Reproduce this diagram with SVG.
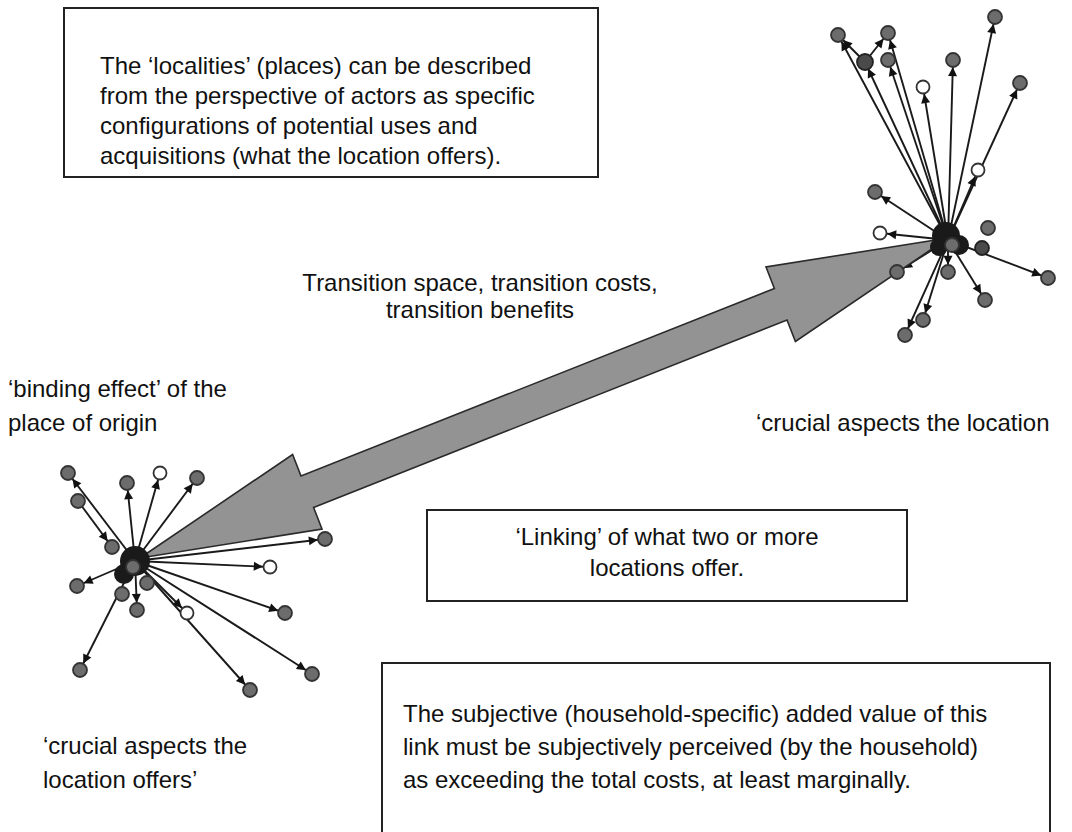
<svg xmlns="http://www.w3.org/2000/svg" width="1072" height="832" viewBox="0 0 1072 832">
<defs>
<marker id="ah" viewBox="0 0 10 10" refX="18" refY="5" markerWidth="11" markerHeight="9" markerUnits="userSpaceOnUse" orient="auto" overflow="visible">
<path d="M0,0 L10,5 L0,10 z" fill="#111"/>
</marker>
</defs>
<style>
text{font-family:"Liberation Sans",Arial,sans-serif;font-size:24px;fill:#111}
.box{fill:#fff;stroke:#222;stroke-width:2}
.e{stroke:#1a1a1a;stroke-width:1.9;fill:none;marker-end:url(#ah)}
.n{fill:#6c6c6c;stroke:#333;stroke-width:1.8}
.d{fill:#4a4a4a;stroke:#222;stroke-width:1.8}
.o{fill:#fff;stroke:#333;stroke-width:1.8}
.hub{fill:#1a1a1a}
.big{fill:#939393;stroke:#2a2a2a;stroke-width:1.6;stroke-linejoin:miter}
</style>
<rect width="1072" height="832" fill="#fff"/>

<g id="box-localities">
<rect class="box" x="64" y="8" width="534" height="169"/>
<text x="100" y="74">The ‘localities’ (places) can be described</text>
<text x="100" y="104">from the perspective of actors as specific</text>
<text x="100" y="134">configurations of potential uses and</text>
<text x="100" y="164">acquisitions (what the location offers).</text>
</g>

<g id="label-transition">
<text x="480" y="291" text-anchor="middle">Transition space, transition costs,</text>
<text x="480" y="318" text-anchor="middle">transition benefits</text>
</g>

<g id="label-binding">
<text x="8" y="397">‘binding effect’ of the</text>
<text x="8" y="431">place of origin</text>
</g>

<g id="label-crucial-right">
<text x="756" y="431">‘crucial aspects the location</text>
</g>

<g id="label-crucial-left">
<text x="43" y="754">‘crucial aspects the</text>
<text x="43" y="788">location offers’</text>
</g>

<g id="box-linking">
<rect class="box" x="427" y="510" width="480" height="91"/>
<text x="667" y="545" text-anchor="middle">‘Linking’ of what two or more</text>
<text x="667" y="576" text-anchor="middle">locations offer.</text>
</g>

<g id="box-subjective">
<rect class="box" x="382" y="663" width="668" height="180"/>
<text x="403" y="722">The subjective (household-specific) added value of this</text>
<text x="403" y="755">link must be subjectively perceived (by the household)</text>
<text x="403" y="788">as exceeding the total costs, at least marginally.</text>
</g>

<g id="connectors">
<g id="right-edges">
<line class="e" x1="948" y1="240" x2="838" y2="35"/>
<line class="e" x1="948" y1="240" x2="888" y2="33"/>
<line class="e" x1="948" y1="240" x2="865" y2="62"/>
<line class="e" x1="948" y1="240" x2="888" y2="60"/>
<line class="e" x1="948" y1="240" x2="953" y2="60"/>
<line class="e" x1="948" y1="240" x2="995" y2="17"/>
<line class="e" x1="948" y1="240" x2="1020" y2="83"/>
<line class="e" x1="948" y1="240" x2="923" y2="87"/>
<line class="e" x1="948" y1="240" x2="978" y2="170"/>
<line class="e" x1="948" y1="240" x2="875" y2="192"/>
<line class="e" x1="948" y1="240" x2="880" y2="233"/>
<line class="e" x1="948" y1="240" x2="1048" y2="278"/>
<line class="e" x1="948" y1="240" x2="985" y2="300"/>
<line class="e" x1="948" y1="240" x2="923" y2="320"/>
<line class="e" x1="948" y1="240" x2="905" y2="335"/>
<line class="e" x1="948" y1="240" x2="948" y2="272"/>
<line class="e" x1="948" y1="240" x2="897" y2="272"/>
<line class="e" x1="865" y1="62" x2="838" y2="35"/>
<line class="e" x1="865" y1="62" x2="888" y2="33"/>
</g>
<g id="left-edges">
<line class="e" x1="135" y1="561" x2="68" y2="473"/>
<line class="e" x1="78" y1="501" x2="112" y2="547"/>
<line class="e" x1="135" y1="561" x2="127" y2="483"/>
<line class="e" x1="135" y1="561" x2="160" y2="473"/>
<line class="e" x1="135" y1="561" x2="197" y2="478"/>
<line class="e" x1="135" y1="561" x2="325" y2="539"/>
<line class="e" x1="135" y1="561" x2="270" y2="567"/>
<line class="e" x1="135" y1="561" x2="285" y2="613"/>
<line class="e" x1="135" y1="561" x2="187" y2="613"/>
<line class="e" x1="135" y1="561" x2="312" y2="674"/>
<line class="e" x1="135" y1="561" x2="250" y2="690"/>
<line class="e" x1="135" y1="561" x2="80" y2="670"/>
<line class="e" x1="135" y1="561" x2="77" y2="586"/>
<line class="e" x1="135" y1="561" x2="137" y2="610"/>
</g>
</g>

<g id="transition-arrow">
<polygon class="big" points="948,238 766,267 774.4,288.5 301,476 292.6,454.5 140,558 322,529 313.6,507.5 787,320 795.4,341.5"/>
</g>

<g id="cluster-right">
<circle class="n" cx="838" cy="35" r="7"/>
<circle class="n" cx="888" cy="33" r="7"/>
<circle class="d" cx="865" cy="62" r="8"/>
<circle class="n" cx="888" cy="60" r="7"/>
<circle class="n" cx="953" cy="60" r="7"/>
<circle class="n" cx="995" cy="17" r="7"/>
<circle class="n" cx="1020" cy="83" r="7"/>
<circle class="o" cx="923" cy="87" r="6.5"/>
<circle class="o" cx="978" cy="170" r="6.5"/>
<circle class="n" cx="875" cy="192" r="7"/>
<circle class="o" cx="880" cy="233" r="6.5"/>
<circle class="n" cx="1048" cy="278" r="7"/>
<circle class="n" cx="985" cy="300" r="7"/>
<circle class="n" cx="923" cy="320" r="7"/>
<circle class="n" cx="905" cy="335" r="7"/>
<circle class="n" cx="948" cy="272" r="7"/>
<circle class="n" cx="897" cy="272" r="7"/>
<circle class="hub" cx="946" cy="236" r="14"/>
<circle class="hub" cx="959" cy="245" r="10"/>
<circle class="hub" cx="939" cy="247" r="9"/>
<circle class="n" cx="988" cy="228" r="7"/>
<circle class="d" cx="982" cy="248" r="7"/>
<circle class="n" cx="952" cy="245" r="7"/>
</g>

<g id="cluster-left">
<circle class="n" cx="68" cy="473" r="7"/>
<circle class="n" cx="78" cy="501" r="7"/>
<circle class="n" cx="127" cy="483" r="7"/>
<circle class="o" cx="160" cy="473" r="6.5"/>
<circle class="n" cx="197" cy="478" r="7"/>
<circle class="n" cx="325" cy="539" r="7"/>
<circle class="o" cx="270" cy="567" r="6.5"/>
<circle class="n" cx="285" cy="613" r="7"/>
<circle class="o" cx="187" cy="613" r="6.5"/>
<circle class="n" cx="312" cy="674" r="7"/>
<circle class="n" cx="250" cy="690" r="7"/>
<circle class="n" cx="80" cy="670" r="7"/>
<circle class="n" cx="77" cy="586" r="7"/>
<circle class="n" cx="137" cy="610" r="7"/>
<circle class="hub" cx="135" cy="561" r="15"/>
<circle class="hub" cx="124" cy="574" r="10"/>
<circle class="n" cx="112" cy="547" r="7"/>
<circle class="n" cx="122" cy="594" r="7"/>
<circle class="n" cx="147" cy="583" r="7"/>
<circle class="n" cx="133" cy="567" r="7"/>
</g>
</svg>
